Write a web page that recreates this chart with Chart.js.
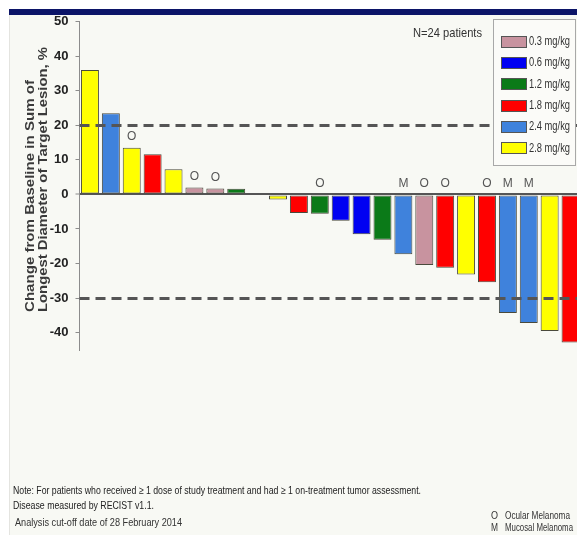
<!DOCTYPE html>
<html>
<head>
<meta charset="utf-8">
<script src="https://cdn.jsdelivr.net/npm/chart.js@4.4.1/dist/chart.umd.min.js"></script>
<style>
  html, body { margin: 0; padding: 0; background: #ffffff; overflow: hidden; }
  #wrap { position: relative; width: 577px; height: 535px; overflow: hidden; }
  #c { position: absolute; left: 0; top: 0; }
</style>
</head>
<body>
<div id="wrap"><canvas id="c" width="600" height="535"></canvas></div>
<script>
// ---- DATA ----
const patients = ['1','2','3','4','5','6','7','8','9','10','11','12','13','14','15','16','17','18','19','20','21','22','23','24'];
const changePct = [36, 23.5, 13.5, 11.6, 7.3, 2.0, 1.7, 1.6, 0, -1.5, -5.4, -5.6, -7.6, -11.5, -13.1, -17.3, -20.4, -21.2, -23.2, -25.4, -34.3, -37.2, -39.5, -42.8];
const doseMgKg = ['2.8','2.4','2.8','1.8','2.8','0.3','0.3','1.2', null,'2.8','1.8','1.2','0.6','0.6','1.2','2.4','0.3','1.8','2.8','1.8','2.4','2.4','2.8','1.8'];
const melanomaType = ['','','O','','','O','O','','','','','O','','','','M','O','O','','O','M','M','',''];
const doseLevels = ['0.3','0.6','1.2','1.8','2.4','2.8'];
const doseLegendLabels = ['0.3 mg/kg','0.6 mg/kg','1.2 mg/kg','1.8 mg/kg','2.4 mg/kg','2.8 mg/kg'];
const yTickValues = [-40, -30, -20, -10, 0, 10, 20, 30, 40, 50];
const thresholdLines = [20, -30];
const yTitleLines = ['Change from Baseline in Sum of', 'Longest Diameter of Target Lesion, %'];
const nLabel = 'N=24 patients';
const footNotes = ['Note: For patients who received \u2265 1 dose of study treatment and had \u2265 1 on-treatment tumor assessment.', 'Disease measured by RECIST v1.1.'];
const cutoffNote = 'Analysis cut-off date of 28 February 2014';
const typeKey = [['O', 'Ocular Melanoma'], ['M', 'Mucosal Melanoma']];

// ---- STYLE ----
const doseColors = { '0.3': '#c8939f', '0.6': '#0000f2', '1.2': '#0b7a18', '1.8': '#ff0000', '2.4': '#3f82dc', '2.8': '#ffff00' };
const barColors = doseMgKg.map(d => d ? doseColors[d] : 'rgba(0,0,0,0)');
const NARROW = '"Liberation Sans Narrow", "Liberation Sans", Arial, sans-serif';
const SANS = '"Liberation Sans", Arial, sans-serif';

function fitText(ctx, text, x, y, w, font, color, rot) {
  ctx.save();
  ctx.font = font;
  const m = ctx.measureText(text).width;
  ctx.translate(x, y);
  if (rot) ctx.rotate(rot);
  ctx.scale(w / m, 1);
  ctx.fillStyle = color;
  ctx.textAlign = 'left';
  ctx.textBaseline = 'middle';
  ctx.fillText(text, 0, 0);
  ctx.restore();
}

const decorPlugin = {
  id: 'decor',
  beforeDraw(chart) {
    const ctx = chart.ctx, W = chart.width, H = chart.height;
    ctx.save();
    ctx.fillStyle = '#ffffff';
    ctx.fillRect(0, 0, W, H);
    ctx.fillStyle = '#f8f9f4';
    ctx.fillRect(9, 15, W - 9, H - 15);
    ctx.fillStyle = '#0c1568';
    ctx.fillRect(9, 9, W - 9, 6);
    ctx.strokeStyle = '#e4e4e0';
    ctx.lineWidth = 1;
    ctx.beginPath(); ctx.moveTo(9.5, 15); ctx.lineTo(9.5, H); ctx.stroke();
    ctx.restore();
  },
  afterDatasetsDraw(chart) {
    const ctx = chart.ctx, y = chart.scales.y, area = chart.chartArea;
    // threshold dashed lines
    ctx.save();
    ctx.strokeStyle = '#555555';
    ctx.lineWidth = 3;
    ctx.setLineDash([10, 6]);
    thresholdLines.forEach(v => {
      const py = Math.round(y.getPixelForValue(v)) + 0.5;
      ctx.beginPath(); ctx.moveTo(area.left, py); ctx.lineTo(chart.width, py); ctx.stroke();
    });
    ctx.restore();
    // melanoma type markers
    const meta = chart.getDatasetMeta(0);
    ctx.save();
    ctx.font = '12px ' + NARROW;
    ctx.fillStyle = '#555555';
    ctx.textAlign = 'center';
    ctx.textBaseline = 'middle';
    meta.data.forEach((bar, i) => {
      const t = melanomaType[i];
      if (!t) return;
      const top = y.getPixelForValue(Math.max(changePct[i], 0));
      ctx.fillText(t, bar.x, top - 11);
    });
    ctx.restore();
  },
  afterDraw(chart) {
    const ctx = chart.ctx;
    // y axis title (two left-aligned rotated lines)
    fitText(ctx, yTitleLines[0], 31, 312, 232, 'bold 12px ' + SANS, '#3a3a3a', -Math.PI / 2);
    fitText(ctx, yTitleLines[1], 44, 312, 265, 'bold 12px ' + SANS, '#3a3a3a', -Math.PI / 2);
    // N label
    fitText(ctx, nLabel, 413, 33, 69, '13px ' + NARROW, '#333333');
    // legend box
    ctx.save();
    ctx.fillStyle = '#fbfbf8';
    ctx.fillRect(493, 19, 83, 146);
    ctx.strokeStyle = '#a8a8a8';
    ctx.lineWidth = 1;
    ctx.strokeRect(493.5, 19.5, 82, 146);
    doseLevels.forEach((d, i) => {
      const cy = 41.7 + i * 21.3;
      ctx.fillStyle = doseColors[d];
      ctx.fillRect(501, Math.round(cy - 6), 26, 12);
      ctx.strokeStyle = '#555555';
      ctx.strokeRect(501.5, Math.round(cy - 6) + 0.5, 25, 11);
      fitText(ctx, doseLegendLabels[i], 529, cy, 41, '12px ' + NARROW, '#333333');
    });
    ctx.restore();
    // footnotes
    fitText(ctx, footNotes[0], 13, 491, 408, '11px ' + NARROW, '#222222');
    fitText(ctx, footNotes[1], 13, 506, 141, '11px ' + NARROW, '#222222');
    fitText(ctx, cutoffNote, 15, 523, 167, '10px ' + NARROW, '#333333');
    typeKey.forEach((k, i) => {
      const cy = 516 + i * 12;
      fitText(ctx, k[0], 491, cy, 7, '10px ' + NARROW, '#333333');
      fitText(ctx, k[1], 505, cy, i === 0 ? 65 : 68, '10px ' + NARROW, '#333333');
    });
  }
};

new Chart(document.getElementById('c'), {
  type: 'bar',
  data: {
    labels: patients,
    datasets: [{
      data: changePct,
      backgroundColor: barColors,
      borderColor: doseMgKg.map(d => d ? '#4a4a3c' : 'rgba(0,0,0,0)'),
      borderWidth: 1,
      borderSkipped: false,
      barPercentage: 0.86,
      categoryPercentage: 1.0
    }]
  },
  options: {
    responsive: false,
    devicePixelRatio: 1,
    animation: false,
    layout: { padding: { left: 0, top: 21.5, right: 19, bottom: 185 } },
    plugins: { legend: { display: false }, tooltip: { enabled: false } },
    scales: {
      x: { type: 'category', display: false },
      y: {
        min: -45,
        max: 50,
        afterFit(scale) { scale.width = 79.5; },
        afterBuildTicks(scale) { scale.ticks = yTickValues.map(v => ({ value: v })); },
        border: { display: true, color: '#8c8c8c', width: 1 },
        grid: {
          drawOnChartArea: true,
          drawTicks: true,
          tickLength: 4,
          tickColor: '#8c8c8c',
          tickWidth: 1,
          color: c => (c.tick && c.tick.value === 0) ? '#555555' : 'rgba(0,0,0,0)',
          lineWidth: c => (c.tick && c.tick.value === 0) ? 2 : 1
        },
        ticks: {
          padding: 7,
          color: '#222222',
          font: { family: NARROW, size: 13, weight: 'bold' },
          callback: v => String(v)
        }
      }
    }
  },
  plugins: [decorPlugin]
});
</script>
</body>
</html>
